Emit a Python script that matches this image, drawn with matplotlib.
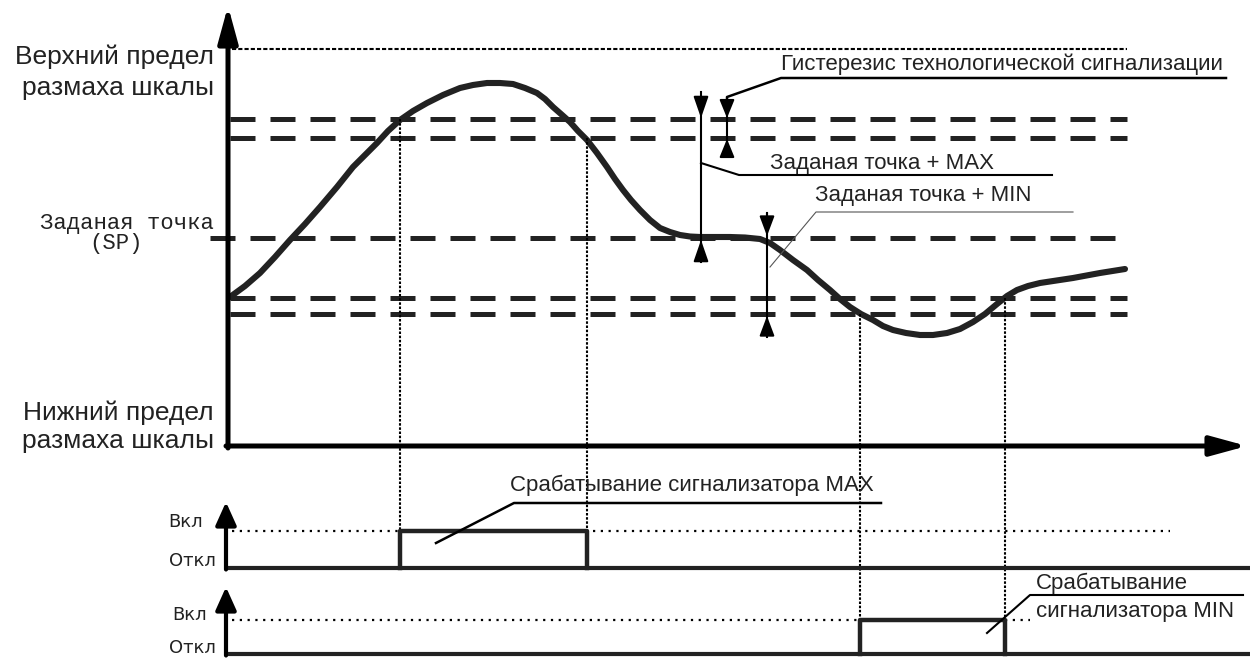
import matplotlib.pyplot as plt
from matplotlib.patches import ArrowStyle

plt.rcParams['font.family'] = ['Liberation Sans', 'DejaVu Sans']

# diagram units = pixels of the reference picture (y grows downwards)
W, H = 1252, 659

# process value curve, read point by point
curve_x = [230, 245, 260, 275, 290, 305, 320, 337, 353, 365, 377, 388, 400, 413,
           427, 443, 460, 473, 487, 500, 513, 525, 537, 545, 553, 561, 570, 578,
           587, 597, 607, 615, 623, 631, 640, 650, 660, 670, 680, 690, 700, 715,
           730, 745, 760, 770, 780, 793, 807, 818, 830, 840, 850, 861, 873, 883,
           893, 906, 920, 933, 947, 960, 973, 985, 997, 1007, 1017, 1028, 1040,
           1073, 1100, 1125]
curve_y = [297, 286, 273, 257, 240, 224, 207, 187, 167, 155, 143, 131, 120, 111,
           103, 95, 88, 85, 83, 83, 84, 88, 93, 99, 107, 114, 122, 131,
           140, 153, 167, 179, 190, 200, 210, 220, 228, 232, 235, 236.5, 237, 237,
           237, 237.5, 239, 243, 250, 260, 270, 280, 290, 299, 307, 314, 320, 326,
           330, 333, 335, 335, 333, 329, 322, 314, 304, 296, 290, 286, 283,
           278, 273, 269]

# levels
y_upper = 49      # upper limit of scale
y_max = 119       # setpoint + MAX
y_max_h = 138     # MAX minus hysteresis
y_sp = 238        # setpoint
y_min_h = 298     # MIN plus hysteresis
y_min = 314       # setpoint + MIN

# switching moments
x_max_on, x_max_off = 400, 587
x_min_on, x_min_off = 860, 1005

# main axes
ax_x0, ax_y0 = 228, 446
ax_top, ax_right = 6, 1247
line_end = 1127

# alarm panels: (baseline, on level, arrow tip)
p1_off, p1_on, p1_tip = 568, 531, 502
p2_off, p2_on, p2_tip = 654, 620, 587
panel_x0, panel_x1 = 226, 1250

fig = plt.figure(figsize=(W / 100, H / 100), dpi=100)
ax = fig.add_axes([0, 0, 1, 1])
ax.set_xlim(0, W)
ax.set_ylim(H, 0)
ax.axis('off')

K = 'black'
TXT = '#222222'


def arrow(x0, y0, x1, y1, lw, hl, hw, ms=10):
    style = ArrowStyle('-|>', head_length=hl, head_width=hw)
    ax.annotate('', xy=(x1, y1), xytext=(x0, y0),
                arrowprops=dict(arrowstyle=style, lw=lw, color=K,
                                shrinkA=0, shrinkB=0, mutation_scale=ms))


# main axes with arrows
arrow(ax_x0, ax_y0 + 2, ax_x0, ax_top, 3.6, 1.1, 0.3, ms=20)
arrow(ax_x0 - 2, ax_y0, ax_right, ax_y0, 3.6, 1.1, 0.3, ms=20)

# upper scale limit
ax.plot([ax_x0 + 4, line_end], [y_upper, y_upper], color=K, lw=1.5,
        linestyle=(0, (2, 1)))

# dashed alarm levels
dash = (0, (5, 3))
for yl in [y_max, y_max_h, y_min_h, y_min]:
    ax.plot([ax_x0 + 2, line_end], [yl, yl], color='#222222', lw=3.6,
            linestyle=dash)
ax.plot([210, line_end + 3], [y_sp, y_sp], color='#222222', lw=3.6,
        linestyle=dash)

# process curve
ax.plot(curve_x, curve_y, color='#222222', lw=4.4, solid_joinstyle='round',
        solid_capstyle='round')

# vertical dotted projections
vdot = (0, (1.2, 0.8))
ax.plot([x_max_on, x_max_on], [y_max, p1_off], color=K, lw=1.5, linestyle=vdot)
ax.plot([x_max_off, x_max_off], [y_max_h, p1_off], color=K, lw=1.5, linestyle=vdot)
ax.plot([x_min_on, x_min_on], [y_min, p2_off], color=K, lw=1.5, linestyle=vdot)
ax.plot([x_min_off, x_min_off], [y_min_h, p2_off], color=K, lw=1.5, linestyle=vdot)

# alarm panels
pdot = (0, (1, 2.5))
for base, on, tip in [(p1_off, p1_on, p1_tip), (p2_off, p2_on, p2_tip)]:
    arrow(panel_x0, base + 1.5, panel_x0, tip, 3.0, 1.0, 0.45, ms=14)
    ax.plot([panel_x0 - 1.5, panel_x1], [base, base], color='#222222', lw=3.0,
            solid_capstyle='butt')

ax.plot([panel_x0 + 6, x_max_on], [p1_on, p1_on], color=K, lw=1.6, linestyle=pdot)
ax.plot([x_max_off + 6, 1170], [p1_on, p1_on], color=K, lw=1.6, linestyle=pdot)
ax.plot([x_max_on, x_max_on, x_max_off, x_max_off],
        [p1_off, p1_on, p1_on, p1_off], color='#222222', lw=3.2)
ax.plot([panel_x0 + 6, x_min_on], [p2_on, p2_on], color=K, lw=1.6, linestyle=pdot)
ax.plot([x_min_off, 1030], [p2_on, p2_on], color=K, lw=1.6, linestyle=pdot)
ax.plot([x_min_on, x_min_on, x_min_off, x_min_off],
        [p2_off, p2_on, p2_on, p2_off], color='#222222', lw=3.2)

for yl, txt, xr in [(p1_on - 9, 'Вкл', 203), (p1_off - 7, 'Откл', 216),
                    (p2_on - 5, 'Вкл', 207), (p2_off - 6, 'Откл', 216)]:
    ax.text(xr, yl, txt, ha='right', va='center', fontsize=13,
            family='DejaVu Sans', color=TXT)

# dimension arrows: setpoint + MAX
x_dm = 701
ax.plot([x_dm, x_dm], [92, 262], color=K, lw=1.5)
arrow(x_dm, 100, x_dm, y_max - 1, 1.5, 1.3, 0.45)
arrow(x_dm, 258, x_dm, y_sp + 2, 1.5, 1.3, 0.45)
ax.plot([x_dm, 739, 1052], [163, 175, 175], color=K, lw=1.5)
ax.text(770, 164, 'Заданая точка + MAX', ha='left', va='center', fontsize=16,
        color=TXT)

# hysteresis
x_hy = 727
ax.plot([x_hy, x_hy], [110, 150], color=K, lw=1.5)
arrow(x_hy, 100, x_hy, y_max - 1, 1.5, 1.1, 0.45)
arrow(x_hy, 150, x_hy, y_max_h + 1, 1.5, 1.1, 0.45)
ax.plot([x_hy, x_hy, 781, 1226], [103, 97, 78, 78], color=K, lw=1.8)
ax.text(781, 64, 'Гистерезис технологической сигнализации', ha='left',
        va='center', fontsize=16, color=TXT)

# dimension arrows: setpoint + MIN
x_dn = 767
ax.plot([x_dn, x_dn], [213, 337], color=K, lw=1.5)
arrow(x_dn, 213, x_dn, y_sp - 2, 1.5, 1.2, 0.45)
arrow(x_dn, 335, x_dn, y_min + 2, 1.5, 1.2, 0.45)
ax.plot([770, 816, 1073], [267, 212, 212], color='#555555', lw=0.8)
ax.text(815, 196, 'Заданая точка + MIN', ha='left', va='center', fontsize=16,
        color=TXT)

# alarm labels
ax.plot([436, 514, 881], [543, 503, 503], color=K, lw=1.8)
ax.text(510, 485, 'Срабатывание сигнализатора MAX', ha='left', va='center',
        fontsize=16, color=TXT)
ax.plot([987, 1030, 1243], [633, 595, 595], color=K, lw=1.5)
ax.text(1036, 583, 'Срабатывание', ha='left', va='center', fontsize=16,
        color=TXT)
ax.text(1036, 611, 'сигнализатора MIN', ha='left', va='center', fontsize=16,
        color=TXT)

# scale labels on the left
for yl, txt in [(57, 'Верхний предел'), (88, 'размаха шкалы'),
                (413, 'Нижний предел'), (441, 'размаха шкалы')]:
    ax.text(214, yl, txt, ha='right', va='center', fontsize=19, color=TXT)
ax.text(214, 223, 'Заданая точка', ha='right', va='center', fontsize=16,
        family='Liberation Mono', color=TXT)
ax.text(116, 243, '(SP)', ha='center', va='center', fontsize=16,
        family='Liberation Mono', color=TXT)

fig.savefig('out.png', dpi=100)
